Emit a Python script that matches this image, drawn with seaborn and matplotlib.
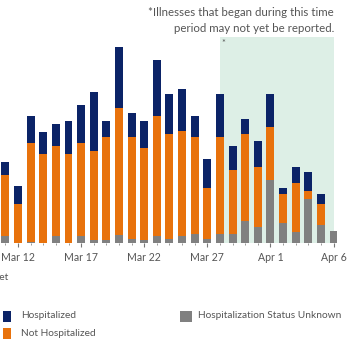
import matplotlib
matplotlib.use("Agg")
import matplotlib.pyplot as plt
import matplotlib.patches as mpatches
import seaborn as sns
import pandas as pd
import numpy as np

# ---- data (heights, arbitrary count units) ----
days = ["Mar 11", "Mar 12", "Mar 13", "Mar 14", "Mar 15", "Mar 16", "Mar 17",
        "Mar 18", "Mar 19", "Mar 20", "Mar 21", "Mar 22", "Mar 23", "Mar 24",
        "Mar 25", "Mar 26", "Mar 27", "Mar 28", "Mar 29", "Mar 30", "Mar 31",
        "Apr 1", "Apr 2", "Apr 3", "Apr 4", "Apr 5", "Apr 6"]
unknown = [7, 0, 1, 0, 7, 0, 7, 3, 3, 8, 3.7, 3, 7, 3.7, 7, 9, 3.7, 9, 8.7,
           22, 16, 63, 19.7, 11.3, 43.7, 18, 12.3]
not_hosp = [61.3, 39.3, 98.7, 89.3, 90.3, 89.3, 92.7, 89, 103, 127, 102.3, 91.7,
            120, 105, 105.3, 97, 51.3, 97, 64.6, 86.7, 60, 53.3, 29.3, 48.7,
            8.6, 21, 0]
hosp = [12.7, 18, 27.3, 22, 21.7, 32.7, 38, 59, 16, 61.3, 23.7, 27, 56, 40,
        41.4, 21, 29, 42.7, 24, 15.6, 26.3, 32.4, 6, 16, 18.4, 10.3, 0]
tick_labels = ["Mar 12", "Mar 17", "Mar 22", "Mar 27", "Apr 1", "Apr 6"]
legend_labels = ["Hospitalized", "Not Hospitalized", "Hospitalization Status Unknown"]

C_HOSP = "#0b2367"
C_NOT = "#e8720c"
C_UNK = "#808080"
C_SHADE = "#ddefe6"
C_TEXT = "#555555"

sns.set_style("white")
plt.rcParams["font.family"] = ["Lato", "DejaVu Sans"]

df = pd.DataFrame({"day": days, "unknown": unknown,
                   "not_hosp": not_hosp, "hosp": hosp})
df["lvl2"] = df["unknown"] + df["not_hosp"]
df["total"] = df["lvl2"] + df["hosp"]

W, H = 350, 344
fig = plt.figure(figsize=(W / 100, H / 100), dpi=100)
base_px = 243
ax = fig.add_axes([0, (H - base_px) / H, 1, base_px / H])

n = len(days)
x0_px, step_px = 5.4, 12.62
ax_xmin = -x0_px / step_px
ax_xmax = (W - x0_px) / step_px

# shaded "may not yet be reported" area
shade_top = base_px - 37
ax.fill_between([17, 26.05], 0, shade_top, color=C_SHADE, zorder=0, lw=0)
ax.text(17.3, base_px - 44, "*", color=C_TEXT, fontsize=6.5, ha="center",
        va="center", zorder=1)

bw = 0.63
sns.barplot(data=df, x="day", y="total", order=days, color=C_HOSP,
            width=bw, saturation=1, ax=ax, zorder=2, linewidth=0)
sns.barplot(data=df, x="day", y="lvl2", order=days, color=C_NOT,
            width=bw, saturation=1, ax=ax, zorder=3, linewidth=0)
sns.barplot(data=df, x="day", y="unknown", order=days, color=C_UNK,
            width=bw, saturation=1, ax=ax, zorder=4, linewidth=0)

ax.set_xlim(ax_xmin, ax_xmax)
ax.set_ylim(0, base_px)
for s in ax.spines.values():
    s.set_visible(False)
ax.set_yticks([])
ax.set_xlabel("")
ax.set_ylabel("")
major = [days.index(t) for t in tick_labels]
ax.set_xticks(major)
ax.set_xticklabels(tick_labels)
ax.set_xticks(range(n), minor=True)
ax.tick_params(axis="x", which="major", length=3.2, width=0.8, color="#777777",
               labelsize=7.6, labelcolor=C_TEXT, pad=3.5, bottom=True)
ax.tick_params(axis="x", which="minor", length=1.6, width=0.7, color="#999999",
               bottom=True)
ax.patch.set_alpha(0)

def fx(px):
    return px / W

def fy(py):
    return 1 - py / H

# annotation
fig.text(fx(334), fy(13), "*Illnesses that began during this time",
         ha="right", va="center", fontsize=8.3, color=C_TEXT)
fig.text(fx(334), fy(29), "period may not yet be reported.",
         ha="right", va="center", fontsize=8.3, color=C_TEXT)

# cut-off x-axis title (only its end is visible in the reference)
fig.text(fx(8), fy(278), "Date of Illness Onset", ha="right", va="center",
         fontsize=7.5, color=C_TEXT)

# legend
def swatch(x, y, w, h, c):
    fig.patches.append(mpatches.Rectangle((fx(x), fy(y + h)), w / W, h / H,
                                          transform=fig.transFigure,
                                          color=c, lw=0))

swatch(3, 310.5, 8, 11, C_HOSP)
swatch(3, 328, 8, 11, C_NOT)
swatch(180, 310.5, 12, 11, C_UNK)
fig.text(fx(21), fy(316), legend_labels[0], ha="left", va="center",
         fontsize=7.3, color=C_TEXT)
fig.text(fx(21), fy(333.5), legend_labels[1], ha="left", va="center",
         fontsize=7.3, color=C_TEXT)
fig.text(fx(198), fy(316), legend_labels[2], ha="left", va="center",
         fontsize=7.3, color=C_TEXT)

fig.savefig("out.png", dpi=100)
